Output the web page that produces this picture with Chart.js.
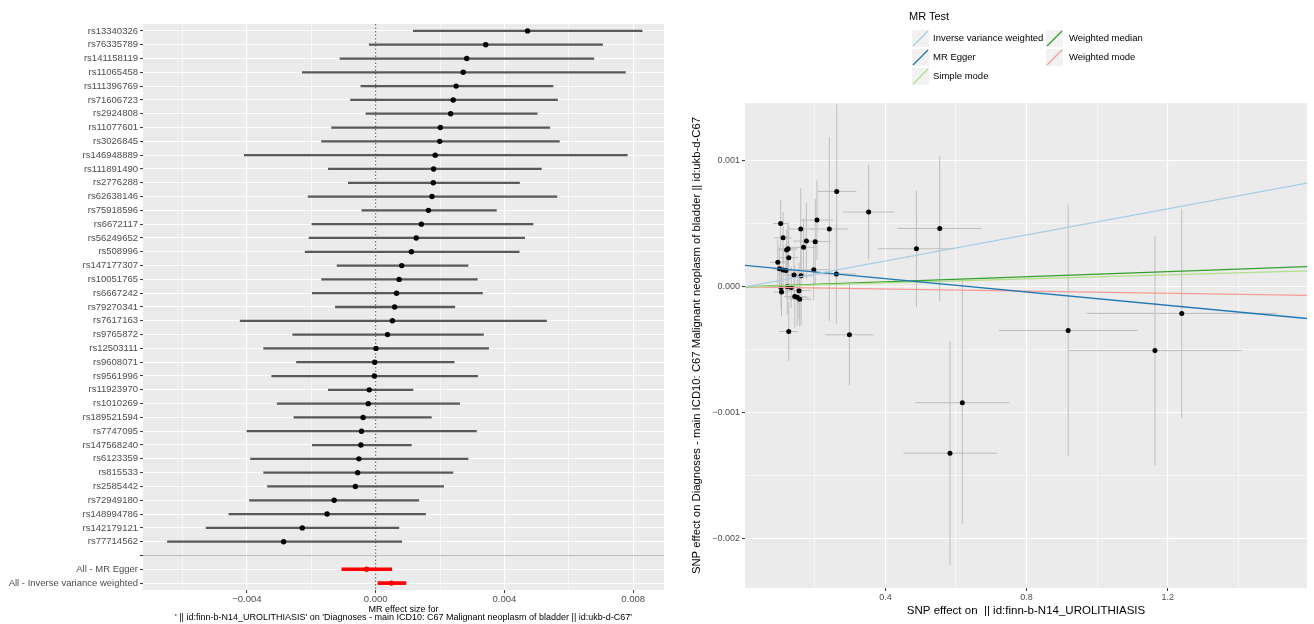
<!DOCTYPE html>
<html>
<head>
<meta charset="utf-8">
<script src="https://cdn.jsdelivr.net/npm/chart.js@4.4.1/dist/chart.umd.min.js"></script>
<style>
  html, body { margin: 0; padding: 0; background: #fff; }
  body { width: 1314px; height: 624px; position: relative; overflow: hidden; font-family: "Liberation Sans", Arial, sans-serif; }
  #forestBox { position: absolute; left: 0; top: 0; width: 668px; height: 624px; }
  #scatterBox { position: absolute; left: 668px; top: 0; width: 646px; height: 624px; }
  .lg-title { position: absolute; font-size: 11px; line-height: 13px; color: #000; }
  .lg-key { position: absolute; width: 17px; height: 17px; }
  .lg-text { position: absolute; font-size: 9.5px; line-height: 12px; color: #000; white-space: nowrap; }
</style>
</head>
<body>
<div id="forestBox"><canvas id="forest"></canvas></div>
<div id="scatterBox"><canvas id="scatter"></canvas></div>
<div id="legend"></div>
<script>
// ---- forest plot: single SNP Wald ratios, sorted by effect ----
const snpNames = [
  "rs13340326", "rs76335789", "rs141158119", "rs11065458", "rs111396769", "rs71606723",
  "rs2924808", "rs11077601", "rs3026845", "rs146948889", "rs111891490", "rs2776288",
  "rs62638146", "rs75918596", "rs6672117", "rs56249652", "rs508996", "rs147177307",
  "rs10051765", "rs6667242", "rs79270341", "rs7617163", "rs9765872", "rs12503111",
  "rs9608071", "rs9561996", "rs11923970", "rs1010269", "rs189521594", "rs7747095",
  "rs147568240", "rs6123359", "rs815533", "rs2585442", "rs72949180", "rs148994786",
  "rs142179121", "rs77714562"
];
const forestB = [
  0.00472, 0.00342, 0.00283, 0.00272, 0.00250, 0.00241,
  0.00233, 0.00201, 0.00199, 0.00185, 0.00180, 0.00179,
  0.00175, 0.00164, 0.00142, 0.00126, 0.00111, 0.00081,
  0.00073, 0.00065, 0.00059, 0.00052, 0.00037, 0.00001,
  -0.00003, -0.00004, -0.00020, -0.00023, -0.00039, -0.00044,
  -0.00046, -0.00052, -0.00056, -0.00063, -0.00129, -0.00151,
  -0.00228, -0.00286
];
const forestLo = [
  0.00117, -0.00020, -0.00111, -0.00228, -0.00046, -0.00078,
  -0.00030, -0.00137, -0.00168, -0.00408, -0.00147, -0.00085,
  -0.00210, -0.00043, -0.00198, -0.00207, -0.00219, -0.00120,
  -0.00168, -0.00197, -0.00125, -0.00421, -0.00258, -0.00348,
  -0.00246, -0.00323, -0.00147, -0.00306, -0.00254, -0.00400,
  -0.00197, -0.00389, -0.00348, -0.00336, -0.00392, -0.00456,
  -0.00527, -0.00647
];
const forestHi = [
  0.00828, 0.00705, 0.00678, 0.00776, 0.00551, 0.00565,
  0.00502, 0.00541, 0.00571, 0.00782, 0.00515, 0.00447,
  0.00563, 0.00375, 0.00489, 0.00463, 0.00446, 0.00287,
  0.00316, 0.00332, 0.00246, 0.00531, 0.00335, 0.00351,
  0.00244, 0.00317, 0.00116, 0.00261, 0.00173, 0.00313,
  0.00111, 0.00287, 0.00240, 0.00211, 0.00134, 0.00155,
  0.00072, 0.00081
];
const summaryNames = ["All - MR Egger", "All - Inverse variance weighted"];
const summaryB = [-0.00028, 0.00049];
const summaryLo = [-0.00105, 0.00007];
const summaryHi = [0.00050, 0.00094];
const forestTickValues = [-0.004, 0, 0.004, 0.008];
const forestTickLabels = ["\u22120.004", "0.000", "0.004", "0.008"];

// ---- scatter plot: SNP effects, same order as snpNames ----
const exposureB = [
  0.103, 0.110, 0.160, 0.262, 0.206, 0.124,
  0.120, 0.176, 0.095, 0.241, 0.201, 0.168,
  0.126, 0.3525, 0.100, 0.110, 0.118, 0.554,
  0.197, 0.141, 0.488, 0.161, 0.261, 0.122,
  0.133, 0.104, 1.240, 0.155, 0.918, 0.1055,
  1.164, 0.143, 0.150, 0.157, 0.298, 0.618,
  0.583, 0.126
];
const exposureSe = [
  0.022, 0.024, 0.035, 0.056, 0.045, 0.027,
  0.026, 0.038, 0.021, 0.052, 0.044, 0.036,
  0.027, 0.073, 0.022, 0.024, 0.026, 0.120,
  0.043, 0.031, 0.109, 0.035, 0.057, 0.027,
  0.029, 0.023, 0.270, 0.034, 0.196, 0.023,
  0.245, 0.031, 0.033, 0.034, 0.068, 0.133,
  0.132, 0.027
];
const outcomeB = [
  0.000504, 0.000390, 0.000460, 0.000758, 0.000531, 0.000303,
  0.000293, 0.000364, 0.000195, 0.000460, 0.000359, 0.000314,
  0.000232, 0.000594, 0.000145, 0.000135, 0.000131, 0.000464,
  0.000137, 0.000095, 0.000303, 0.000088, 0.000103, 0.000001,
  -0.000004, -0.000004, -0.000210, -0.000030, -0.000346, -0.000040,
  -0.000505, -0.000077, -0.000082, -0.000098, -0.000380, -0.000919,
  -0.001320, -0.000354
];
const outcomeSe = [
  0.000187, 0.000203, 0.000322, 0.000690, 0.000314, 0.000204,
  0.000163, 0.000304, 0.000179, 0.000730, 0.000340, 0.000228,
  0.000249, 0.000376, 0.000175, 0.000188, 0.000200, 0.000577,
  0.000243, 0.000190, 0.000462, 0.000390, 0.000395, 0.000218,
  0.000166, 0.000170, 0.000830, 0.000225, 0.001000, 0.000192,
  0.000910, 0.000247, 0.000225, 0.000219, 0.000400, 0.000965,
  0.000890, 0.000234
];
const scatterXTickValues = [0.4, 0.8, 1.2];
const scatterXTickLabels = ["0.4", "0.8", "1.2"];
const scatterYTickValues = [-0.002, -0.001, 0, 0.001];
const scatterYTickLabels = ["\u22120.002", "\u22120.001", "0.000", "0.001"];

// ---- MR method fits ----
const methodNames = ["Inverse variance weighted", "MR Egger", "Simple mode", "Weighted median", "Weighted mode"];
const methodIntercepts = [0, 0.000172, 0, 0, 0];
const methodSlopes = [0.000517, -0.000265, 0.00008, 0.000101, -0.000042];
const methodColors = ["#a6cee3", "#1f78b4", "#b2df8a", "#33a02c", "#fb9a99"];
const lineXRange = [0, 1.7];

Chart.defaults.font.family = '"Liberation Sans", Arial, sans-serif';
Chart.defaults.color = "#4d4d4d";

function isTick(v, list) {
  return list.some(t => Math.abs(t - v) < 1e-9);
}
function tickText(v, values, labels) {
  const i = values.findIndex(t => Math.abs(t - v) < 1e-9);
  return i < 0 ? "" : labels[i];
}

// grey ggplot panel
const panelBg = {
  id: "panelBg",
  beforeDraw(chart) {
    const { ctx, chartArea } = chart;
    ctx.save();
    ctx.fillStyle = "#ebebeb";
    ctx.fillRect(chartArea.left, chartArea.top, chartArea.right - chartArea.left, chartArea.bottom - chartArea.top);
    ctx.restore();
  }
};

// dotted reference line at zero effect
const zeroLine = {
  id: "zeroLine",
  beforeDatasetsDraw(chart) {
    const { ctx, chartArea, scales } = chart;
    const px = scales.x.getPixelForValue(0);
    ctx.save();
    ctx.strokeStyle = "#555555";
    ctx.lineWidth = 1;
    ctx.setLineDash([1.5, 2]);
    ctx.beginPath();
    ctx.moveTo(px, chartArea.top);
    ctx.lineTo(px, chartArea.bottom);
    ctx.stroke();
    ctx.restore();
  }
};

// Forest plot
const rowLabels = snpNames.concat([""], summaryNames);

new Chart(document.getElementById("forest"), {
  type: "bar",
  data: {
    labels: rowLabels,
    datasets: [
      {
        type: "scatter",
        data: snpNames.map((n, i) => ({ x: forestB[i], y: n })),
        pointRadius: 2.7,
        pointBackgroundColor: "#000000",
        pointBorderWidth: 0,
        order: 0
      },
      {
        type: "scatter",
        data: summaryNames.map((n, i) => ({ x: summaryB[i], y: n })),
        pointRadius: 2.7,
        pointBackgroundColor: "#ff0000",
        pointBorderWidth: 0,
        order: 0
      },
      {
        type: "bar",
        data: snpNames.map((n, i) => ({ x: [forestLo[i], forestHi[i]], y: n })),
        backgroundColor: "#595959",
        barThickness: 1.6,
        grouped: false,
        order: 1
      },
      {
        type: "bar",
        data: summaryNames.map((n, i) => ({ x: [summaryLo[i], summaryHi[i]], y: n })),
        backgroundColor: "#ff0000",
        barThickness: 3,
        grouped: false,
        order: 1
      }
    ]
  },
  options: {
    indexAxis: "y",
    responsive: true,
    maintainAspectRatio: false,
    animation: false,
    layout: { padding: { top: 24, right: 3 } },
    plugins: { legend: { display: false }, tooltip: { enabled: false } },
    scales: {
      x: {
        type: "linear",
        position: "bottom",
        min: -0.00723,
        max: 0.00896,
        afterFit: s => { s.height = 34; },
        border: { display: false },
        grid: {
          color: "#ffffff",
          lineWidth: c => (c.tick && isTick(c.tick.value, forestTickValues) ? 1.1 : 0.55),
          tickColor: c => (c.tick && isTick(c.tick.value, forestTickValues) ? "#333333" : "rgba(0,0,0,0)"),
          tickLength: 3,
          tickWidth: 1
        },
        ticks: {
          stepSize: 0.002,
          includeBounds: false,
          autoSkip: false,
          maxRotation: 0,
          padding: 1,
          color: "#4d4d4d",
          font: { size: 9.5 },
          callback: v => tickText(v, forestTickValues, forestTickLabels)
        },
        title: {
          display: true,
          text: ["MR effect size for",
                 "' || id:finn-b-N14_UROLITHIASIS' on 'Diagnoses - main ICD10: C67 Malignant neoplasm of bladder || id:ukb-d-C67'"],
          color: "#000000",
          font: { size: 9, lineHeight: 0.85 },
          padding: { top: 0, bottom: 3 }
        }
      },
      y: {
        type: "category",
        offset: true,
        afterFit: s => { s.width = 143; },
        border: { display: false },
        grid: {
          offset: false,
          color: c => (c.tick && c.tick.label === "" ? "#bdbdbd" : "#ffffff"),
          lineWidth: 1.1,
          tickColor: "#333333",
          tickLength: 3,
          tickWidth: 1
        },
        ticks: {
          autoSkip: false,
          padding: 2,
          color: "#4d4d4d",
          font: { size: 9.5 }
        }
      }
    }
  },
  plugins: [panelBg, zeroLine]
});

// Scatter plot
const hErr = [];
const vErr = [];
exposureB.forEach((bx, i) => {
  hErr.push({ x: bx - exposureSe[i], y: outcomeB[i] }, { x: bx + exposureSe[i], y: outcomeB[i] }, { x: null, y: null });
  vErr.push({ x: bx, y: outcomeB[i] - outcomeSe[i] }, { x: bx, y: outcomeB[i] + outcomeSe[i] }, { x: null, y: null });
});

const methodSets = methodNames.map((name, i) => ({
  label: name,
  data: lineXRange.map(x => ({ x: x, y: methodIntercepts[i] + methodSlopes[i] * x })),
  showLine: true,
  pointRadius: 0,
  borderColor: methodColors[i],
  borderWidth: 1.3,
  order: 0
}));

new Chart(document.getElementById("scatter"), {
  type: "scatter",
  data: {
    datasets: methodSets.concat([
      {
        label: "SNPs",
        data: exposureB.map((bx, i) => ({ x: bx, y: outcomeB[i] })),
        pointRadius: 2.5,
        pointBackgroundColor: "#000000",
        pointBorderWidth: 0,
        order: 1
      },
      {
        label: "se exposure",
        data: hErr,
        showLine: true,
        spanGaps: false,
        pointRadius: 0,
        borderColor: "#bebebe",
        borderWidth: 1,
        order: 2
      },
      {
        label: "se outcome",
        data: vErr,
        showLine: true,
        spanGaps: false,
        pointRadius: 0,
        borderColor: "#bebebe",
        borderWidth: 1,
        order: 2
      }
    ])
  },
  options: {
    responsive: true,
    maintainAspectRatio: false,
    animation: false,
    layout: { padding: { top: 103, right: 7 } },
    plugins: { legend: { display: false }, tooltip: { enabled: false } },
    scales: {
      x: {
        type: "linear",
        min: 0.002,
        max: 1.595,
        afterFit: s => { s.height = 36; },
        border: { display: false },
        grid: {
          color: "#ffffff",
          lineWidth: c => (c.tick && isTick(c.tick.value, scatterXTickValues) ? 1.1 : 0.55),
          tickColor: c => (c.tick && isTick(c.tick.value, scatterXTickValues) ? "#333333" : "rgba(0,0,0,0)"),
          tickLength: 3,
          tickWidth: 1
        },
        ticks: {
          stepSize: 0.2,
          includeBounds: false,
          autoSkip: false,
          maxRotation: 0,
          padding: 1,
          color: "#4d4d4d",
          font: { size: 9 },
          callback: v => tickText(v, scatterXTickValues, scatterXTickLabels)
        },
        title: {
          display: true,
          text: "SNP effect on  || id:finn-b-N14_UROLITHIASIS",
          color: "#000000",
          font: { size: 11.5, lineHeight: 1.2 },
          padding: { top: 0, bottom: 6 }
        }
      },
      y: {
        type: "linear",
        min: -0.00239,
        max: 0.00146,
        afterFit: s => { s.width = 77; },
        border: { display: false },
        grid: {
          color: "#ffffff",
          lineWidth: c => (c.tick && isTick(c.tick.value, scatterYTickValues) ? 1.1 : 0.55),
          tickColor: c => (c.tick && isTick(c.tick.value, scatterYTickValues) ? "#333333" : "rgba(0,0,0,0)"),
          tickLength: 3,
          tickWidth: 1
        },
        ticks: {
          stepSize: 0.0005,
          includeBounds: false,
          autoSkip: false,
          padding: 2,
          color: "#4d4d4d",
          font: { size: 9 },
          callback: v => tickText(v, scatterYTickValues, scatterYTickLabels)
        },
        title: {
          display: true,
          text: "SNP effect on Diagnoses - main ICD10: C67 Malignant neoplasm of bladder || id:ukb-d-C67",
          color: "#000000",
          font: { size: 11.3, lineHeight: 1.2 },
          padding: { top: 22, bottom: 0 }
        }
      }
    }
  },
  plugins: [panelBg]
});

// ggplot-style legend, two columns filled top to bottom
const legend = document.getElementById("legend");
const ttl = document.createElement("div");
ttl.className = "lg-title";
ttl.style.left = "909px";
ttl.style.top = "10px";
ttl.textContent = "MR Test";
legend.appendChild(ttl);

const svgNS = "http://www.w3.org/2000/svg";
methodNames.forEach((name, i) => {
  const col = Math.floor(i / 3);
  const row = i % 3;
  const cy = 38 + row * 19;
  const key = document.createElementNS(svgNS, "svg");
  key.setAttribute("class", "lg-key");
  key.setAttribute("width", "17");
  key.setAttribute("height", "17");
  key.style.left = (col ? 1046 : 912) + "px";
  key.style.top = (cy - 8.5) + "px";
  const bg = document.createElementNS(svgNS, "rect");
  bg.setAttribute("width", "17");
  bg.setAttribute("height", "17");
  bg.setAttribute("fill", "#f2f2f2");
  key.appendChild(bg);
  const ln = document.createElementNS(svgNS, "line");
  ln.setAttribute("x1", "1");
  ln.setAttribute("y1", "16");
  ln.setAttribute("x2", "16");
  ln.setAttribute("y2", "1");
  ln.setAttribute("stroke", methodColors[i]);
  ln.setAttribute("stroke-width", "1.2");
  key.appendChild(ln);
  legend.appendChild(key);
  const txt = document.createElement("div");
  txt.className = "lg-text";
  txt.style.left = (col ? 1069 : 933) + "px";
  txt.style.top = (cy - 6) + "px";
  txt.textContent = name;
  legend.appendChild(txt);
});
</script>
</body>
</html>
